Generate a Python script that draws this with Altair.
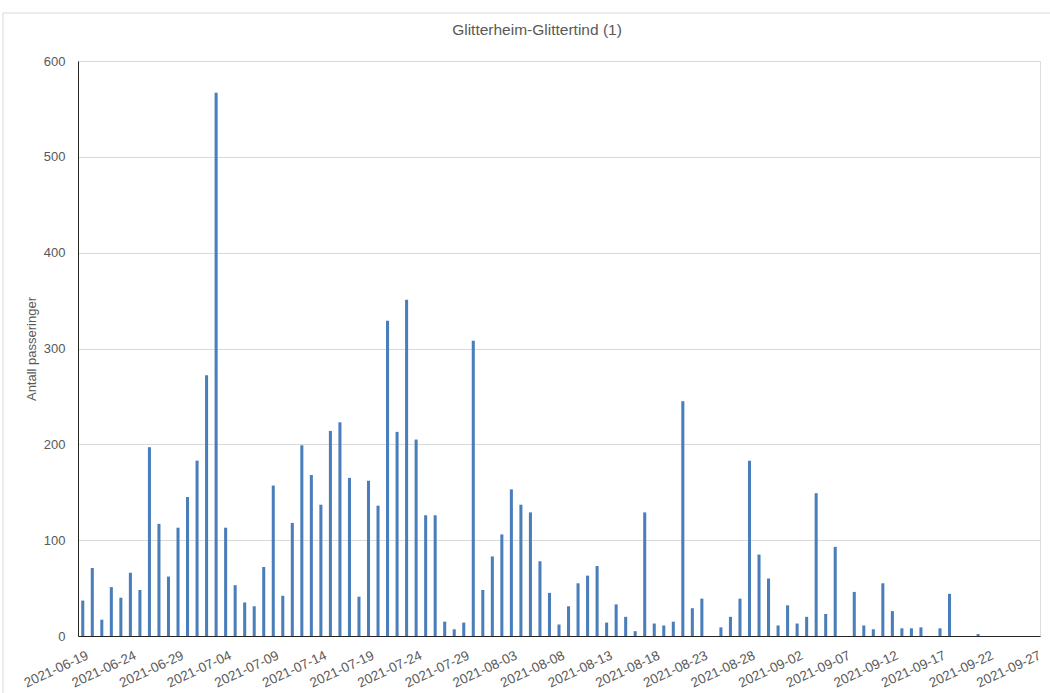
import altair as alt
import pandas as pd

# Daily passes, one bar per day from 2021-06-19 to 2021-09-27
start_date = "2021-06-19"
end_date = "2021-09-27"
passes = [
    37, 71, 17, 51, 40, 66, 48, 197, 117, 62,
    113, 145, 183, 272, 567, 113, 53, 35, 31, 72,
    157, 42, 118, 199, 168, 137, 214, 223, 165, 41,
    162, 136, 329, 213, 351, 205, 126, 126, 15, 7,
    14, 308, 48, 83, 106, 153, 137, 129, 78, 45,
    12, 31, 55, 63, 73, 14, 33, 20, 5, 129,
    13, 11, 15, 245, 29, 39, 0, 9, 20, 39,
    183, 85, 60, 11, 32, 13, 20, 149, 23, 93,
    0, 46, 11, 7, 55, 26, 8, 8, 9, 0,
    8, 44, 0, 0, 2, 0, 0, 0, 0, 0,
    0,
]
dates = [d.strftime("%Y-%m-%d") for d in pd.date_range(start_date, end_date, freq="D")]
tick_dates = dates[::5]
y_ticks = [0, 100, 200, 300, 400, 500, 600]

df = pd.DataFrame({"dato": dates, "antall": passes})

FONT = "Liberation Sans"
TEXT = "#595959"

bars = (
    alt.Chart(df)
    .mark_bar(color="#4a7ebb")
    .encode(
        x=alt.X(
            "dato:O",
            sort=None,
            scale=alt.Scale(paddingInner=0.68, paddingOuter=0.34),
            axis=alt.Axis(
                title=None,
                values=tick_dates,
                labelAngle=-25,
                labelAlign="right",
                labelBaseline="top",
                labelPadding=12,
                labelOffset=2,
                ticks=False,
                tickSize=0,
                domainColor="#262626",
                domainWidth=1.2,
                labelColor=TEXT,
                labelFontSize=13.5,
                labelFont=FONT,
                grid=False,
            ),
        ),
        y=alt.Y(
            "antall:Q",
            scale=alt.Scale(domain=[0, 600], nice=False),
            axis=alt.Axis(
                title="Antall passeringer",
                values=y_ticks,
                ticks=False,
                tickSize=0,
                labelPadding=13,
                domainColor="#262626",
                gridColor="#d9d9d9",
                gridWidth=1,
                labelColor=TEXT,
                labelFontSize=13,
                labelFont=FONT,
                titleColor=TEXT,
                titleFontSize=13,
                titleFont=FONT,
                titleFontWeight="normal",
                titlePadding=5,
            ),
        ),
    )
)

# Light outer frame around the chart area
frame = (
    alt.Chart(pd.DataFrame({"k": [0]}))
    .mark_rect(fill=None, stroke="#d9d9d9", strokeWidth=1)
    .encode(
        x=alt.value(-75),
        x2=alt.value(1000),
        y=alt.value(-48),
        y2=alt.value(700),
    )
)

chart = (
    alt.layer(frame, bars)
    .properties(
        width=962,
        height=575,
        title=alt.TitleParams(
            "Glitterheim-Glittertind (1)",
            font=FONT,
            fontSize=15.5,
            fontWeight="normal",
            color=TEXT,
            anchor="middle",
            offset=20,
            dx=-22,
            dy=46,
        ),
        autosize=alt.AutoSizeParams(type="none"),
        padding={"left": 78, "top": 61, "right": 10, "bottom": 57},
    )
    .configure_view(stroke=None)
    .configure(background="white")
)

chart.save("out.html", embed_options={"renderer": "svg", "actions": False})
